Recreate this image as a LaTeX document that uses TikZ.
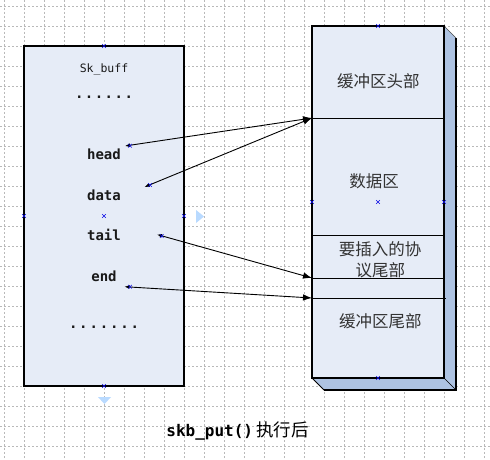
\documentclass[tikz,border=0pt]{standalone}
\usepackage{fontspec}
\setmainfont{Noto Sans CJK SC}
\newfontfamily\cjkf{Noto Sans CJK SC}
\newfontfamily\monof{DejaVu Sans Mono}
\usetikzlibrary{arrows.meta}
\definecolor{boxfill}{RGB}{230,236,247}
\definecolor{shadowfill}{RGB}{174,195,226}
\definecolor{gridc}{RGB}{185,185,185}
\definecolor{markc}{RGB}{10,10,230}
\definecolor{trif}{RGB}{185,218,255}
\newcommand\bluex[1]{\draw[markc,line width=0.6pt,shift={(#1)}] (-1.8,-1.8)--(1.8,1.8) (-1.8,1.8)--(1.8,-1.8);}
\tikzset{
  gridline/.style={gridc, line width=0.7pt, dash pattern=on 2pt off 2pt},
  membox/.style={draw=black, fill=boxfill, line width=1.2pt, rectangle, inner sep=0pt},
  divider/.style={black, line width=1pt},
  ptr/.style={line width=0.9pt, {Latex[length=5pt,width=4pt]}-{Latex[length=9pt,width=6.5pt]}},
  lbl/.style={font=\monof\bfseries\fontsize{14}{16}\selectfont, anchor=base, inner sep=0pt, text=black!90},
  small/.style={font=\monof\fontsize{11.5}{13}\selectfont, anchor=base, inner sep=0pt, text=black!90},
  cjk/.style={font=\cjkf\fontsize{16.5}{18}\selectfont, anchor=base, inner sep=0pt, text=black!80},
  hint/.style={fill=trif},
}
\begin{document}
\begin{tikzpicture}[x=1pt,y=-1pt]
\useasboundingbox (0,0) rectangle (490,460);
\fill[white] (0,0) rectangle (490,460);
% grid
\foreach \x in {4,24,...,484} \draw[gridline] (\x,0) -- (\x,460);
\foreach \y in {6,26,...,446} \draw[gridline] (0,\y) -- (490,\y);

% left box: sk_buff
\node[membox, minimum width=160pt, minimum height=340pt] (skb) at (104,216) {};
\node[small] (title1) at (104,73) {Sk\_buff};
\node[lbl] (dots1) at (104,98.5) {\hbox to 58pt{.\hfil.\hfil.\hfil.\hfil.\hfil.}};
\node[lbl] (head) at (104,159.3) {head};
\node[lbl] (data) at (104,200) {data};
\node[lbl] (tail) at (104,240.7) {tail};
\node[lbl] (end) at (104,281) {end};
\node[lbl] (dots2) at (104,328.5) {\hbox to 70pt{.\hfil.\hfil.\hfil.\hfil.\hfil.\hfil.}};

% right box: buffer with 3D shadow
\fill[shadowfill] (444,26) -- (456,38) -- (456,390) -- (324,390) -- (312,378) -- (444,378) -- cycle;
\draw[black, line width=1.2pt] (456,38) -- (456,390) -- (324,390);
\draw[black!70, line width=0.6pt] (444,26) -- (456,38);
\draw[black, line width=0.8pt] (312,378) -- (324,390);
\draw[black, line width=0.6pt] (444,378) -- (456,390);
\node[membox, minimum width=132pt, minimum height=352pt] (buf) at (378,202) {};

\coordinate (d1) at (312,118);
\coordinate (d2) at (312,235);
\coordinate (d3) at (312,278);
\coordinate (d4) at (312,298);
\coordinate (d4e) at (446,298);
\draw[divider] (d1) -- (d1 -| buf.east);
\draw[divider] (d2) -- (d2 -| buf.east);
\draw[divider] (d3) -- (d3 -| buf.east);
\draw[divider] (d4) -- (d4e);

\node[cjk] (hdr) at (378.3,87.7) {缓冲区头部};
\node[cjk] (dat) at (374,187.7) {数据区};
\node[cjk] (ins1) at (380,255.7) {要插入的协};
\node[cjk] (ins2) at (380.3,276) {议尾部};
\node[cjk] (tlr) at (380.3,327.8) {缓冲区尾部};

% pointers
\coordinate (hp) at (125,146);
\coordinate (dp) at (144.5,187);
\coordinate (tp) at (157,234.5);
\coordinate (ep) at (124.5,286.7);
\draw[ptr] (hp) -- (d1);
\draw[ptr] (dp) -- (d1);
\draw[ptr] (tp) -- (d3);
\draw[ptr] (ep) -- (d4);

% editor hints
\fill[hint] (196,210) -- (196,223) -- (204,216.5) -- cycle;
\fill[hint] (98,397) -- (111,397) -- (104.5,404) -- cycle;
\bluex{104,46}\bluex{24,216}\bluex{104,216}\bluex{184,216}\bluex{104,386}
\bluex{378,26}\bluex{312,202}\bluex{378,202}\bluex{444,202}\bluex{378,378}
\bluex{130,145.7}\bluex{150,185}\bluex{161.7,236}\bluex{130,286.7}

% caption
\node[anchor=base, inner sep=0pt, text=black] (cap) at (237.5,436)
  {{\monof\bfseries\fontsize{16}{18}\selectfont skb\_put()}\hspace{3pt}{\cjkf\fontsize{17.5}{19}\selectfont 执行后}};
\end{tikzpicture}
\end{document}
